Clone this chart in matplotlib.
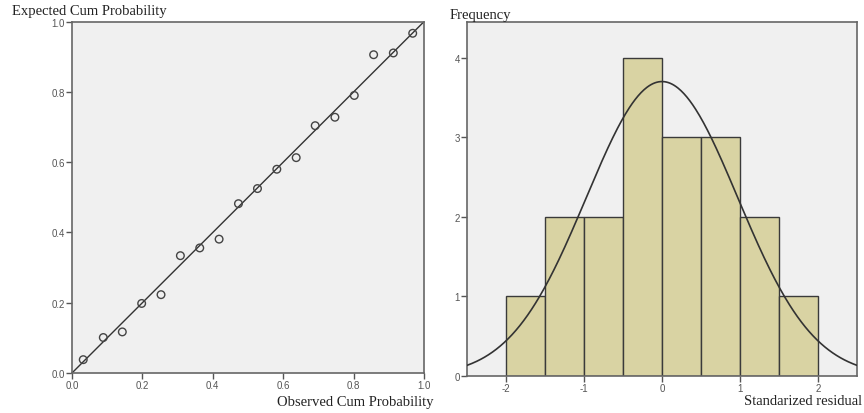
import numpy as np
import matplotlib
matplotlib.use("Agg")
import matplotlib.pyplot as plt

plt.rcParams["axes.unicode_minus"] = False

# P-P plot data
observed = [0.032, 0.089, 0.143, 0.198, 0.253, 0.308, 0.363, 0.418, 0.473,
            0.527, 0.582, 0.637, 0.691, 0.747, 0.802, 0.857, 0.913, 0.968]
expected = [0.038, 0.101, 0.117, 0.198, 0.223, 0.334, 0.356, 0.381, 0.482,
            0.525, 0.580, 0.613, 0.704, 0.728, 0.790, 0.906, 0.911, 0.967]
pp_ticks = [0.0, 0.2, 0.4, 0.6, 0.8, 1.0]

# Histogram data
bin_edges = [-2.0, -1.5, -1.0, -0.5, 0.0, 0.5, 1.0, 1.5, 2.0]
frequencies = [1, 2, 2, 4, 3, 3, 2, 1]
hist_xticks = [-2, -1, 0, 1, 2]
hist_yticks = [0, 1, 2, 3, 4]
resid_mean = 0.0
resid_sd = 0.97

bg = "#F0F0F0"
spine_c = "#666666"
tick_c = "#555555"
serif = ["Liberation Serif", "DejaVu Serif"]
sans = ["Liberation Sans", "DejaVu Sans"]

fig = plt.figure(figsize=(8.64, 4.14), dpi=100)

def style(ax):
    ax.set_facecolor(bg)
    for s in ax.spines.values():
        s.set_color(spine_c)
        s.set_linewidth(1.2)
    ax.tick_params(direction="out", length=4, width=1, color=tick_c,
                   labelcolor=tick_c, labelsize=7, pad=1)
    for lab in ax.get_xticklabels() + ax.get_yticklabels():
        lab.set_family(sans)

# Left: P-P plot
ax1 = fig.add_axes([0.0833, 0.0966, 0.4074, 0.8486])
ax1.plot([0, 1], [0, 1], color="#333333", lw=1.0, zorder=2)
ax1.scatter(observed, expected, s=30, facecolors="none", edgecolors="#444444",
            linewidths=1.0, zorder=3)
ax1.set_xlim(0, 1)
ax1.set_ylim(0, 1)
ax1.set_xticks(pp_ticks)
ax1.set_yticks(pp_ticks)
ax1.set_xticklabels([f"{t:.1f}" for t in pp_ticks])
ax1.set_yticklabels([f"{t:.1f}" for t in pp_ticks])
style(ax1)
fig.text(12 / 864, 1 - 12 / 414, "Expected Cum Probability", family=serif,
         fontsize=10.5, va="center", ha="left", color="#222222")
fig.text(434 / 864, 1 - 403 / 414, "Observed Cum Probability", family=serif,
         fontsize=10.5, va="center", ha="right", color="#222222")

# Right: histogram
ax2 = fig.add_axes([0.5405, 0.0894, 0.4514, 0.855])
widths = np.diff(bin_edges)
ax2.bar(bin_edges[:-1], frequencies, width=widths, align="edge",
        color="#D9D3A3", edgecolor="#3a3a3a", linewidth=1.0, zorder=2)
xs = np.linspace(-2.5, 2.5, 400)
n = sum(frequencies)
bw = bin_edges[1] - bin_edges[0]
pdf = np.exp(-0.5 * ((xs - resid_mean) / resid_sd) ** 2) / (resid_sd * np.sqrt(2 * np.pi))
ax2.plot(xs, n * bw * pdf, color="#333333", lw=1.2, zorder=3)
ax2.set_xlim(-2.5, 2.5)
ax2.set_ylim(0, 4.45)
ax2.set_xticks(hist_xticks)
ax2.set_yticks(hist_yticks)
style(ax2)
fig.text(450 / 864, 1 - 15 / 414, "Frequency", family=serif,
         fontsize=10.5, va="center", ha="left", color="#222222")
fig.text(862 / 864, 1 - 402 / 414, "Standarized residual", family=serif,
         fontsize=10.5, va="center", ha="right", color="#222222")

fig.savefig("out.png", dpi=100)
